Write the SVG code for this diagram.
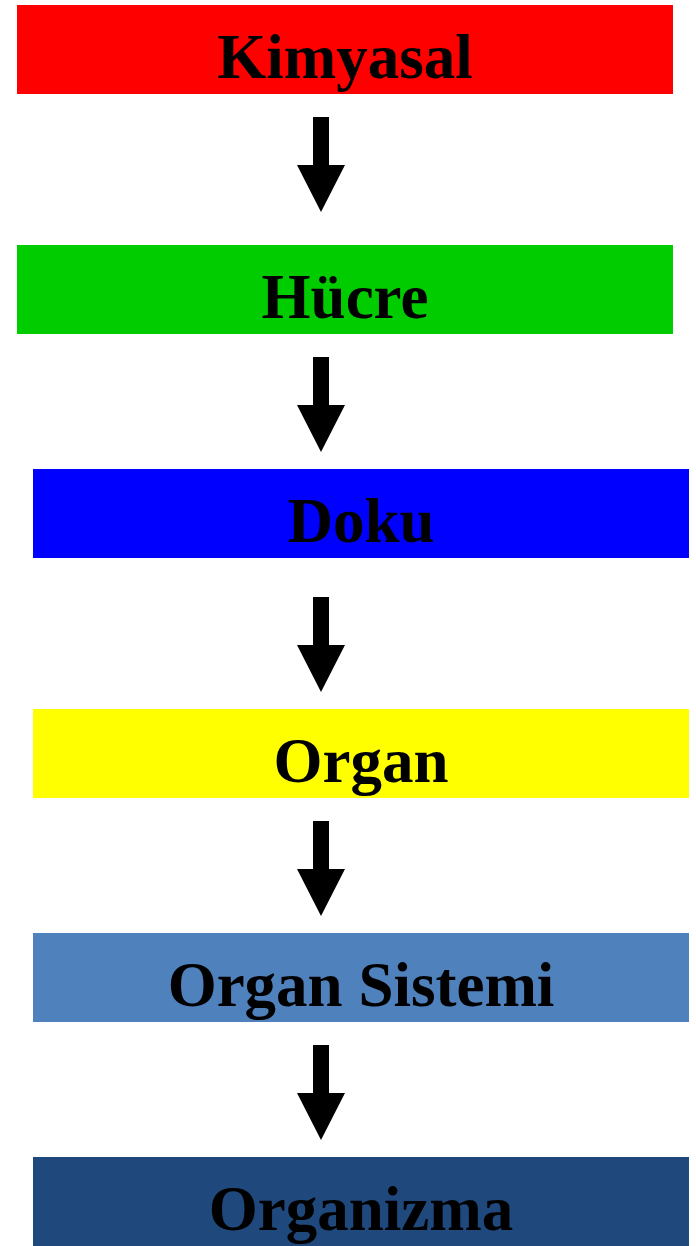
<svg xmlns="http://www.w3.org/2000/svg" width="696" height="1246" viewBox="0 0 696 1246">
<style>
.lbl{font-family:"Liberation Serif","Times New Roman",serif;font-weight:bold;font-size:63px;fill:#000;text-anchor:middle}
.arr{fill:#000}
</style>
<defs>
<path id="arrow" d="M313,117 H329 V165 H345 L321,212 L297,165 H313 Z"/>
</defs>
<rect width="696" height="1246" fill="#fff"/>
<g id="connectors">
<use href="#arrow" class="arr"/>
<use href="#arrow" class="arr" transform="translate(0,240)"/>
<use href="#arrow" class="arr" transform="translate(0,480)"/>
<use href="#arrow" class="arr" transform="translate(0,704)"/>
<use href="#arrow" class="arr" transform="translate(0,928)"/>
</g>
<g id="kimyasal"><rect x="17" y="5" width="656" height="89" fill="#FF0000"/><text class="lbl" x="345" y="78">Kimyasal</text></g>
<g id="hucre"><rect x="17" y="245" width="656" height="89" fill="#00CC00"/><text class="lbl" x="345" y="318">Hücre</text></g>
<g id="doku"><rect x="33" y="469" width="656" height="89" fill="#0000FF"/><text class="lbl" x="361" y="542">Doku</text></g>
<g id="organ"><rect x="33" y="709" width="656" height="89" fill="#FFFF00"/><text class="lbl" x="361" y="782">Organ</text></g>
<g id="organ-sistemi"><rect x="33" y="933" width="656" height="89" fill="#4F81BD"/><text class="lbl" x="361" y="1006">Organ Sistemi</text></g>
<g id="organizma"><rect x="33" y="1157" width="656" height="89" fill="#1F497D"/><text class="lbl" x="361" y="1230">Organizma</text></g>
</svg>
